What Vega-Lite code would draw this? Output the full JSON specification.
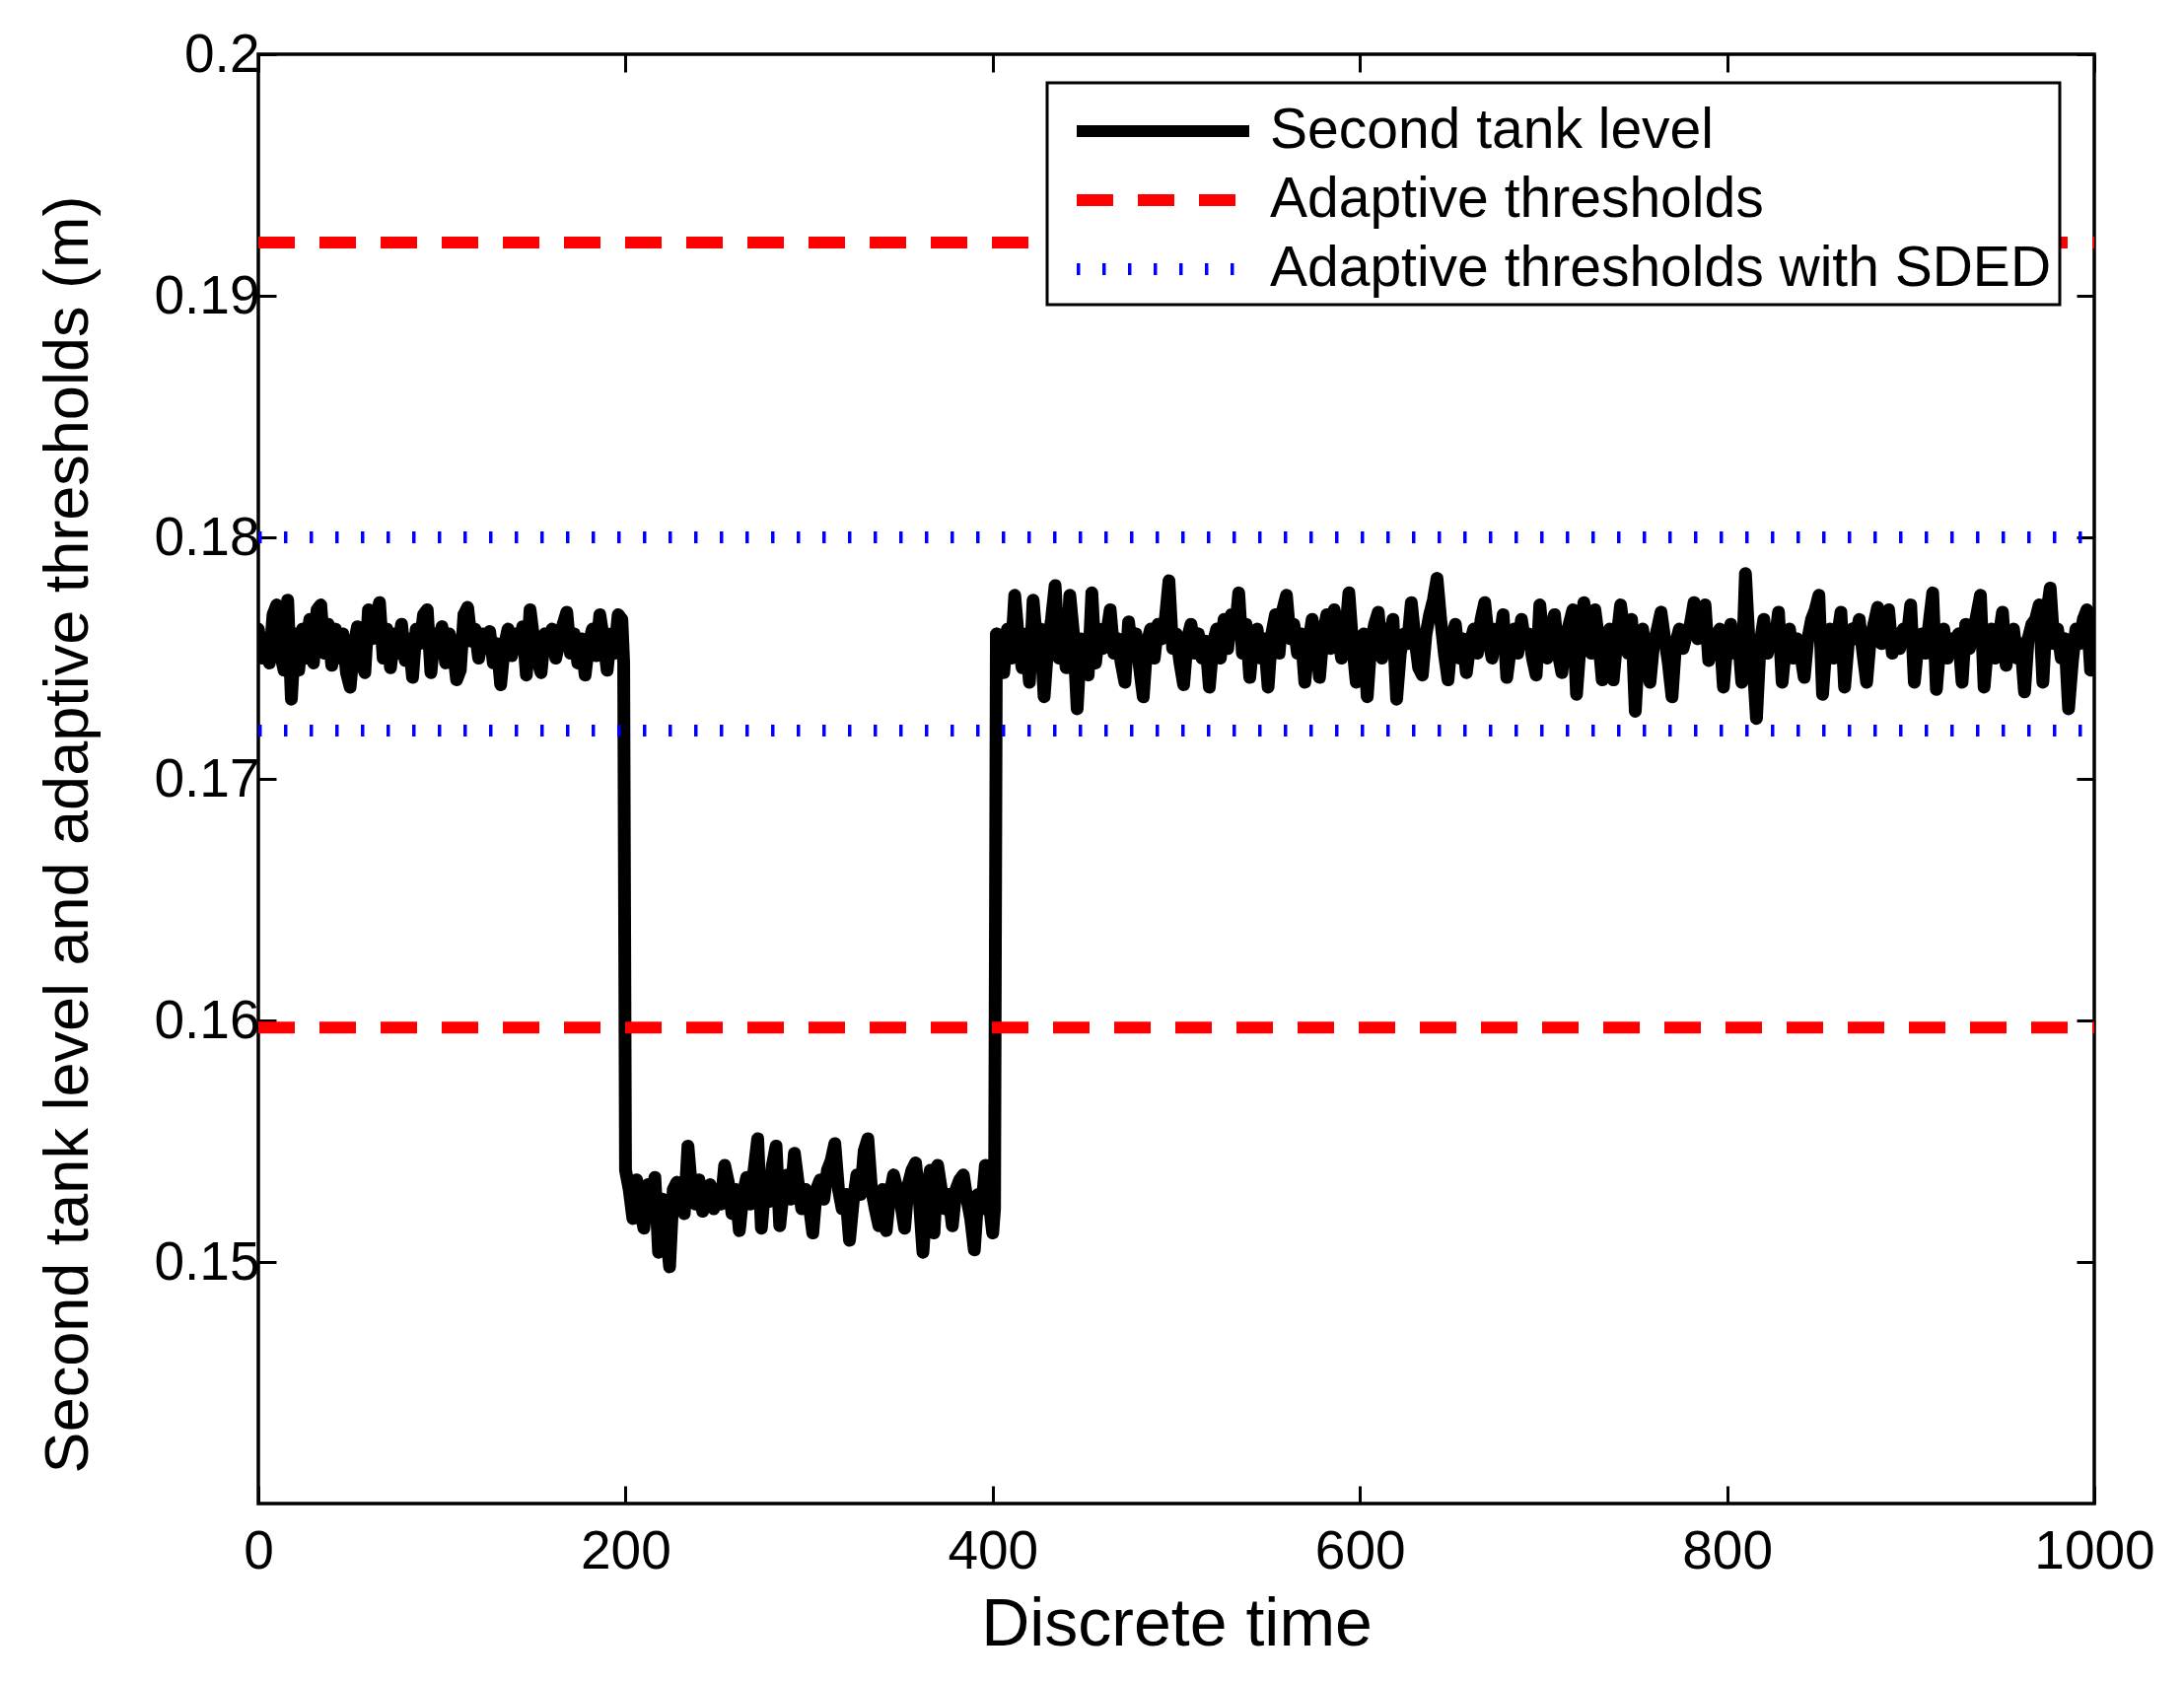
{
  "$schema": "https://vega.github.io/schema/vega-lite/v6.json",
  "autosize": {"type": "none"},
  "padding": {"left": 262, "top": 55, "right": 91, "bottom": 181},
  "width": 1862,
  "height": 1470,
  "background": "white",
  "config": {
    "font": "Liberation Sans",
    "view": {"stroke": "black", "strokeWidth": 3.5},
    "axis": {
      "domain": false, "grid": false, "ticks": true, "labelFlush": false,
      "tickColor": "black", "tickWidth": 3, "tickSize": -18,
      "labelFont": "Liberation Sans", "labelFontSize": 55, "labelColor": "black",
      "titleFont": "Liberation Sans", "titleColor": "black", "titleFontWeight": "normal"
    },
    "legend": {
      "orient": "none", "legendX": 800, "legendY": 29,
      "padding": 8, "rowPadding": 1,
      "symbolType": "M-0.543,0H4.457", "symbolSize": 4900, "symbolStrokeWidth": 12,
      "labelFont": "Liberation Sans", "labelFontSize": 57, "labelColor": "black",
      "labelLimit": 0, "labelOffset": 136,
      "strokeColor": "black", "strokeWidth": 3, "fillColor": "white"
    }
  },
  "datasets": {
    "level": [
      {"t":0,"v":0.1762},{"t":2,"v":0.1750},{"t":4,"v":0.1757},{"t":6,"v":0.1748},{"t":8,"v":0.1768},{"t":10,"v":0.1772},{"t":12,"v":0.1752},{"t":14,"v":0.1745},{"t":16,"v":0.1774},{"t":18,"v":0.1733},
      {"t":20,"v":0.1760},{"t":22,"v":0.1745},{"t":24,"v":0.1762},{"t":26,"v":0.1750},{"t":28,"v":0.1766},{"t":30,"v":0.1748},{"t":32,"v":0.1770},{"t":34,"v":0.1772},{"t":36,"v":0.1752},{"t":38,"v":0.1764},
      {"t":40,"v":0.1747},{"t":42,"v":0.1762},{"t":44,"v":0.1750},{"t":46,"v":0.1760},{"t":48,"v":0.1744},{"t":50,"v":0.1738},{"t":52,"v":0.1755},{"t":54,"v":0.1763},{"t":56,"v":0.1749},{"t":58,"v":0.1744},
      {"t":60,"v":0.1770},{"t":62,"v":0.1758},{"t":64,"v":0.1766},{"t":66,"v":0.1773},{"t":68,"v":0.1750},{"t":70,"v":0.1762},{"t":72,"v":0.1746},{"t":74,"v":0.1760},{"t":76,"v":0.1752},{"t":78,"v":0.1764},
      {"t":80,"v":0.1749},{"t":82,"v":0.1758},{"t":84,"v":0.1742},{"t":86,"v":0.1762},{"t":88,"v":0.1756},{"t":90,"v":0.1768},{"t":92,"v":0.1770},{"t":94,"v":0.1744},{"t":96,"v":0.1760},{"t":98,"v":0.1752},
      {"t":100,"v":0.1763},{"t":102,"v":0.1748},{"t":104,"v":0.1760},{"t":106,"v":0.1755},{"t":108,"v":0.1741},{"t":110,"v":0.1745},{"t":112,"v":0.1768},{"t":114,"v":0.1771},{"t":116,"v":0.1757},{"t":118,"v":0.1762},
      {"t":120,"v":0.1750},{"t":122,"v":0.1760},{"t":124,"v":0.1754},{"t":126,"v":0.1761},{"t":128,"v":0.1748},{"t":130,"v":0.1756},{"t":132,"v":0.1739},{"t":134,"v":0.1755},{"t":136,"v":0.1762},{"t":138,"v":0.1751},
      {"t":140,"v":0.1760},{"t":142,"v":0.1754},{"t":144,"v":0.1763},{"t":146,"v":0.1743},{"t":148,"v":0.1770},{"t":150,"v":0.1758},{"t":152,"v":0.1749},{"t":154,"v":0.1744},{"t":156,"v":0.1760},{"t":158,"v":0.1754},
      {"t":160,"v":0.1762},{"t":162,"v":0.1750},{"t":164,"v":0.1757},{"t":166,"v":0.1764},{"t":168,"v":0.1769},{"t":170,"v":0.1752},{"t":172,"v":0.1760},{"t":174,"v":0.1748},{"t":176,"v":0.1758},{"t":178,"v":0.1743},
      {"t":180,"v":0.1756},{"t":182,"v":0.1762},{"t":184,"v":0.1751},{"t":186,"v":0.1768},{"t":188,"v":0.1758},{"t":190,"v":0.1745},{"t":192,"v":0.1760},{"t":194,"v":0.1752},{"t":196,"v":0.1768},{"t":198,"v":0.1766},
      {"t":199,"v":0.1748},
      {"t":200,"v":0.1538},{"t":202,"v":0.1530},{"t":204,"v":0.1518},{"t":206,"v":0.1534},{"t":208,"v":0.1522},{"t":210,"v":0.1514},{"t":212,"v":0.1532},{"t":214,"v":0.1524},{"t":216,"v":0.1535},{"t":218,"v":0.1504},
      {"t":220,"v":0.1526},{"t":222,"v":0.1515},{"t":224,"v":0.1498},{"t":226,"v":0.1530},{"t":228,"v":0.1533},{"t":230,"v":0.1527},{"t":232,"v":0.1520},{"t":234,"v":0.1548},{"t":236,"v":0.1530},{"t":238,"v":0.1524},
      {"t":240,"v":0.1534},{"t":242,"v":0.1521},{"t":244,"v":0.1528},{"t":246,"v":0.1532},{"t":248,"v":0.1522},{"t":250,"v":0.1530},{"t":252,"v":0.1524},{"t":254,"v":0.1540},{"t":256,"v":0.1533},{"t":258,"v":0.1520},
      {"t":260,"v":0.1530},{"t":262,"v":0.1513},{"t":264,"v":0.1528},{"t":266,"v":0.1535},{"t":268,"v":0.1524},{"t":270,"v":0.1538},{"t":272,"v":0.1551},{"t":274,"v":0.1514},{"t":276,"v":0.1532},{"t":278,"v":0.1525},
      {"t":280,"v":0.1540},{"t":282,"v":0.1548},{"t":284,"v":0.1515},{"t":286,"v":0.1530},{"t":288,"v":0.1536},{"t":290,"v":0.1526},{"t":292,"v":0.1545},{"t":294,"v":0.1533},{"t":296,"v":0.1522},{"t":298,"v":0.1530},
      {"t":300,"v":0.1524},{"t":302,"v":0.1512},{"t":304,"v":0.1530},{"t":306,"v":0.1534},{"t":308,"v":0.1526},{"t":310,"v":0.1538},{"t":312,"v":0.1542},{"t":314,"v":0.1549},{"t":316,"v":0.1530},{"t":318,"v":0.1522},
      {"t":320,"v":0.1528},{"t":322,"v":0.1509},{"t":324,"v":0.1525},{"t":326,"v":0.1536},{"t":328,"v":0.1528},{"t":330,"v":0.1546},{"t":332,"v":0.1551},{"t":334,"v":0.1530},{"t":336,"v":0.1522},{"t":338,"v":0.1515},
      {"t":340,"v":0.1530},{"t":342,"v":0.1513},{"t":344,"v":0.1528},{"t":346,"v":0.1536},{"t":348,"v":0.1530},{"t":350,"v":0.1524},{"t":352,"v":0.1514},{"t":354,"v":0.1532},{"t":356,"v":0.1538},{"t":358,"v":0.1541},
      {"t":360,"v":0.1526},{"t":362,"v":0.1504},{"t":364,"v":0.1528},{"t":366,"v":0.1538},{"t":368,"v":0.1512},{"t":370,"v":0.1540},{"t":372,"v":0.1530},{"t":374,"v":0.1522},{"t":376,"v":0.1528},{"t":378,"v":0.1515},
      {"t":380,"v":0.1530},{"t":382,"v":0.1534},{"t":384,"v":0.1536},{"t":386,"v":0.1526},{"t":388,"v":0.1518},{"t":390,"v":0.1505},{"t":392,"v":0.1528},{"t":394,"v":0.1522},{"t":396,"v":0.1540},{"t":398,"v":0.1525},
      {"t":400,"v":0.1512},{"t":401,"v":0.1522},
      {"t":402,"v":0.1760},{"t":404,"v":0.1752},{"t":406,"v":0.1744},{"t":408,"v":0.1762},{"t":410,"v":0.1750},{"t":412,"v":0.1776},{"t":414,"v":0.1758},{"t":416,"v":0.1746},{"t":418,"v":0.1760},
      {"t":420,"v":0.1740},{"t":422,"v":0.1774},{"t":424,"v":0.1756},{"t":426,"v":0.1762},{"t":428,"v":0.1734},{"t":430,"v":0.1755},{"t":432,"v":0.1766},{"t":434,"v":0.1780},{"t":436,"v":0.1750},{"t":438,"v":0.1760},
      {"t":440,"v":0.1746},{"t":442,"v":0.1776},{"t":444,"v":0.1760},{"t":446,"v":0.1729},{"t":448,"v":0.1758},{"t":450,"v":0.1750},{"t":452,"v":0.1743},{"t":454,"v":0.1777},{"t":456,"v":0.1748},{"t":458,"v":0.1762},
      {"t":460,"v":0.1754},{"t":462,"v":0.1760},{"t":464,"v":0.1770},{"t":466,"v":0.1752},{"t":468,"v":0.1758},{"t":470,"v":0.1748},{"t":472,"v":0.1740},{"t":474,"v":0.1765},{"t":476,"v":0.1752},{"t":478,"v":0.1760},
      {"t":480,"v":0.1746},{"t":482,"v":0.1734},{"t":484,"v":0.1756},{"t":486,"v":0.1762},{"t":488,"v":0.1750},{"t":490,"v":0.1764},{"t":492,"v":0.1758},{"t":494,"v":0.1766},{"t":496,"v":0.1782},{"t":498,"v":0.1754},
      {"t":500,"v":0.1760},{"t":502,"v":0.1748},{"t":504,"v":0.1739},{"t":506,"v":0.1758},{"t":508,"v":0.1764},{"t":510,"v":0.1752},{"t":512,"v":0.1760},{"t":514,"v":0.1750},{"t":516,"v":0.1757},{"t":518,"v":0.1738},
      {"t":520,"v":0.1756},{"t":522,"v":0.1762},{"t":524,"v":0.1750},{"t":526,"v":0.1766},{"t":528,"v":0.1754},{"t":530,"v":0.1768},{"t":532,"v":0.1760},{"t":534,"v":0.1777},{"t":536,"v":0.1752},{"t":538,"v":0.1764},
      {"t":540,"v":0.1742},{"t":542,"v":0.1758},{"t":544,"v":0.1762},{"t":546,"v":0.1750},{"t":548,"v":0.1758},{"t":550,"v":0.1738},{"t":552,"v":0.1760},{"t":554,"v":0.1768},{"t":556,"v":0.1752},{"t":558,"v":0.1770},
      {"t":560,"v":0.1776},{"t":562,"v":0.1758},{"t":564,"v":0.1764},{"t":566,"v":0.1752},{"t":568,"v":0.1760},{"t":570,"v":0.1740},{"t":572,"v":0.1756},{"t":574,"v":0.1766},{"t":576,"v":0.1758},{"t":578,"v":0.1742},
      {"t":580,"v":0.1760},{"t":582,"v":0.1768},{"t":584,"v":0.1754},{"t":586,"v":0.1770},{"t":588,"v":0.1762},{"t":590,"v":0.1750},{"t":592,"v":0.1758},{"t":594,"v":0.1777},{"t":596,"v":0.1756},{"t":598,"v":0.1740},
      {"t":600,"v":0.1752},{"t":602,"v":0.1760},{"t":604,"v":0.1734},{"t":606,"v":0.1756},{"t":608,"v":0.1764},{"t":610,"v":0.1769},{"t":612,"v":0.1750},{"t":614,"v":0.1762},{"t":616,"v":0.1756},{"t":618,"v":0.1766},
      {"t":620,"v":0.1733},{"t":622,"v":0.1752},{"t":624,"v":0.1760},{"t":626,"v":0.1756},{"t":628,"v":0.1773},{"t":630,"v":0.1758},{"t":632,"v":0.1746},{"t":634,"v":0.1743},{"t":636,"v":0.1760},{"t":638,"v":0.1768},
      {"t":640,"v":0.1774},{"t":642,"v":0.1783},{"t":644,"v":0.1766},{"t":646,"v":0.1752},{"t":648,"v":0.1741},{"t":650,"v":0.1758},{"t":652,"v":0.1764},{"t":654,"v":0.1750},{"t":656,"v":0.1758},{"t":658,"v":0.1744},
      {"t":660,"v":0.1756},{"t":662,"v":0.1762},{"t":664,"v":0.1752},{"t":666,"v":0.1766},{"t":668,"v":0.1773},{"t":670,"v":0.1758},{"t":672,"v":0.1750},{"t":674,"v":0.1762},{"t":676,"v":0.1756},{"t":678,"v":0.1768},
      {"t":680,"v":0.1742},{"t":682,"v":0.1754},{"t":684,"v":0.1762},{"t":686,"v":0.1752},{"t":688,"v":0.1766},{"t":690,"v":0.1756},{"t":692,"v":0.1760},{"t":694,"v":0.1750},{"t":696,"v":0.1743},{"t":698,"v":0.1772},
      {"t":700,"v":0.1756},{"t":702,"v":0.1750},{"t":704,"v":0.1762},{"t":706,"v":0.1768},{"t":708,"v":0.1752},{"t":710,"v":0.1744},{"t":712,"v":0.1758},{"t":714,"v":0.1764},{"t":716,"v":0.1770},{"t":718,"v":0.1735},
      {"t":720,"v":0.1756},{"t":722,"v":0.1773},{"t":724,"v":0.1760},{"t":726,"v":0.1752},{"t":728,"v":0.1770},{"t":730,"v":0.1758},{"t":732,"v":0.1741},{"t":734,"v":0.1756},{"t":736,"v":0.1762},{"t":738,"v":0.1741},
      {"t":740,"v":0.1758},{"t":742,"v":0.1772},{"t":744,"v":0.1760},{"t":746,"v":0.1752},{"t":748,"v":0.1766},{"t":750,"v":0.1728},{"t":752,"v":0.1756},{"t":754,"v":0.1762},{"t":756,"v":0.1750},{"t":758,"v":0.1740},
      {"t":760,"v":0.1756},{"t":762,"v":0.1762},{"t":764,"v":0.1769},{"t":766,"v":0.1758},{"t":768,"v":0.1748},{"t":770,"v":0.1734},{"t":772,"v":0.1756},{"t":774,"v":0.1762},{"t":776,"v":0.1754},{"t":778,"v":0.1760},
      {"t":780,"v":0.1764},{"t":782,"v":0.1773},{"t":784,"v":0.1758},{"t":786,"v":0.1766},{"t":788,"v":0.1772},{"t":790,"v":0.1749},{"t":792,"v":0.1760},{"t":794,"v":0.1754},{"t":796,"v":0.1762},{"t":798,"v":0.1738},
      {"t":800,"v":0.1756},{"t":802,"v":0.1764},{"t":804,"v":0.1752},{"t":806,"v":0.1760},{"t":808,"v":0.1740},{"t":810,"v":0.1785},{"t":812,"v":0.1756},{"t":814,"v":0.1750},{"t":816,"v":0.1725},{"t":818,"v":0.1756},
      {"t":820,"v":0.1766},{"t":822,"v":0.1752},{"t":824,"v":0.1760},{"t":826,"v":0.1756},{"t":828,"v":0.1769},{"t":830,"v":0.1740},{"t":832,"v":0.1756},{"t":834,"v":0.1762},{"t":836,"v":0.1750},{"t":838,"v":0.1758},
      {"t":840,"v":0.1752},{"t":842,"v":0.1742},{"t":844,"v":0.1758},{"t":846,"v":0.1766},{"t":848,"v":0.1770},{"t":850,"v":0.1776},{"t":852,"v":0.1735},{"t":854,"v":0.1756},{"t":856,"v":0.1762},{"t":858,"v":0.1750},
      {"t":860,"v":0.1758},{"t":862,"v":0.1769},{"t":864,"v":0.1738},{"t":866,"v":0.1756},{"t":868,"v":0.1762},{"t":870,"v":0.1758},{"t":872,"v":0.1766},{"t":874,"v":0.1752},{"t":876,"v":0.1740},{"t":878,"v":0.1758},
      {"t":880,"v":0.1764},{"t":882,"v":0.1771},{"t":884,"v":0.1756},{"t":886,"v":0.1762},{"t":888,"v":0.1770},{"t":890,"v":0.1752},{"t":892,"v":0.1760},{"t":894,"v":0.1754},{"t":896,"v":0.1762},{"t":898,"v":0.1758},
      {"t":900,"v":0.1772},{"t":902,"v":0.1740},{"t":904,"v":0.1756},{"t":906,"v":0.1760},{"t":908,"v":0.1752},{"t":910,"v":0.1764},{"t":912,"v":0.1777},{"t":914,"v":0.1737},{"t":916,"v":0.1756},{"t":918,"v":0.1762},
      {"t":920,"v":0.1750},{"t":922,"v":0.1758},{"t":924,"v":0.1754},{"t":926,"v":0.1760},{"t":928,"v":0.1740},{"t":930,"v":0.1764},{"t":932,"v":0.1754},{"t":934,"v":0.1760},{"t":936,"v":0.1768},{"t":938,"v":0.1776},
      {"t":940,"v":0.1738},{"t":942,"v":0.1756},{"t":944,"v":0.1762},{"t":946,"v":0.1750},{"t":948,"v":0.1758},{"t":950,"v":0.1769},{"t":952,"v":0.1747},{"t":954,"v":0.1758},{"t":956,"v":0.1762},{"t":958,"v":0.1750},
      {"t":960,"v":0.1756},{"t":962,"v":0.1736},{"t":964,"v":0.1758},{"t":966,"v":0.1764},{"t":968,"v":0.1766},{"t":970,"v":0.1772},{"t":972,"v":0.1740},{"t":974,"v":0.1768},{"t":976,"v":0.1779},{"t":978,"v":0.1756},
      {"t":980,"v":0.1762},{"t":982,"v":0.1750},{"t":984,"v":0.1758},{"t":986,"v":0.1729},{"t":988,"v":0.1748},{"t":990,"v":0.1762},{"t":992,"v":0.1756},{"t":994,"v":0.1766},{"t":996,"v":0.1770},{"t":998,"v":0.1745},
      {"t":1000,"v":0.1758}
    ],
    "thr": [
      {"s":"Adaptive thresholds","id":"r1","t":0,"v":0.1922},
      {"s":"Adaptive thresholds","id":"r1","t":1000,"v":0.1922},
      {"s":"Adaptive thresholds","id":"r2","t":0,"v":0.1597},
      {"s":"Adaptive thresholds","id":"r2","t":1000,"v":0.1597},
      {"s":"Adaptive thresholds with SDED","id":"b1","t":0,"v":0.1800},
      {"s":"Adaptive thresholds with SDED","id":"b1","t":1000,"v":0.1800},
      {"s":"Adaptive thresholds with SDED","id":"b2","t":0,"v":0.1720},
      {"s":"Adaptive thresholds with SDED","id":"b2","t":1000,"v":0.1720}
    ]
  },
  "layer": [
    {
      "data": {"name": "level"},
      "mark": {"type": "line", "clip": true, "strokeWidth": 13, "strokeJoin": "round", "strokeCap": "round"},
      "encoding": {
        "x": {
          "field": "t", "type": "quantitative",
          "scale": {"domain": [0, 1000], "nice": false, "zero": false},
          "axis": {
            "orient": "bottom", "values": [0, 200, 400, 600, 800, 1000], "format": "d",
            "labelPadding": 40,
            "title": "Discrete time", "titleFontSize": 68, "titleY": 143, "titleBaseline": "alphabetic"
          }
        },
        "y": {
          "field": "v", "type": "quantitative",
          "scale": {"domain": [0.14, 0.2], "nice": false, "zero": false},
          "axis": {
            "orient": "left", "values": [0.15, 0.16, 0.17, 0.18, 0.19, 0.2], "format": "~g",
            "labelPadding": 17,
            "title": "Second tank level and adaptive thresholds (m)", "titleFontSize": 63,
            "titleX": -174, "titleY": 791, "titleBaseline": "alphabetic", "titleAngle": -90
          }
        },
        "color": {
          "datum": "Second tank level", "type": "nominal",
          "scale": {
            "domain": ["Second tank level", "Adaptive thresholds", "Adaptive thresholds with SDED"],
            "range": ["#000000", "#ff0000", "#0000ff"]
          },
          "legend": {"title": null}
        },
        "strokeDash": {
          "datum": "Second tank level", "type": "nominal",
          "scale": {
            "domain": ["Second tank level", "Adaptive thresholds", "Adaptive thresholds with SDED"],
            "range": [[1, 0], [37, 25], [3.5, 22.5]]
          },
          "legend": {"title": null}
        }
      }
    },
    {
      "data": {"name": "thr"},
      "mark": {"type": "line", "clip": true, "strokeWidth": 12, "strokeCap": "butt"},
      "encoding": {
        "x": {
          "field": "t", "type": "quantitative",
          "axis": {"orient": "top", "values": [0, 200, 400, 600, 800, 1000], "labels": false, "title": null}
        },
        "y": {
          "field": "v", "type": "quantitative",
          "axis": {"orient": "right", "values": [0.15, 0.16, 0.17, 0.18, 0.19, 0.2], "labels": false, "title": null}
        },
        "color": {"field": "s", "type": "nominal", "legend": {"title": null}},
        "strokeDash": {"field": "s", "type": "nominal", "legend": {"title": null}},
        "detail": {"field": "id"}
      }
    }
  ],
  "resolve": {"axis": {"x": "independent", "y": "independent"}}
}
